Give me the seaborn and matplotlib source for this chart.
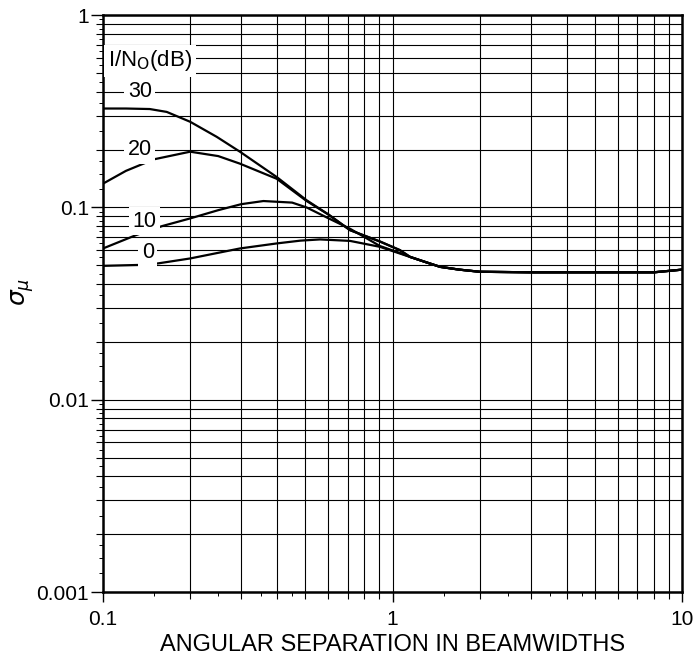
import numpy as np
import pandas as pd
import seaborn as sns
import matplotlib.pyplot as plt
from matplotlib.ticker import FixedLocator, LogLocator, NullFormatter

# curves: sigma_mu vs angular separation (beamwidths)
x_30 = [0.1, 0.12, 0.145, 0.166, 0.2, 0.247, 0.297, 0.398, 0.505, 0.6, 0.713, 0.905, 1.06, 1.15, 1.3, 1.46, 1.7, 2.0, 3.0, 5.0, 8.0, 10.0]
y_30 = [0.327, 0.327, 0.325, 0.314, 0.279, 0.233, 0.195, 0.144, 0.109, 0.092, 0.0762, 0.0665, 0.060, 0.0553, 0.052, 0.0491, 0.0475, 0.0463, 0.046, 0.046, 0.046, 0.0475]

x_20 = [0.1, 0.12, 0.15, 0.2, 0.25, 0.297, 0.398, 0.505, 0.6, 0.713, 0.905, 1.06, 1.15, 1.3, 1.46, 1.7, 2.0, 3.0, 5.0, 8.0, 10.0]
y_20 = [0.133, 0.155, 0.178, 0.195, 0.185, 0.169, 0.141, 0.108, 0.092, 0.0762, 0.0665, 0.060, 0.0553, 0.052, 0.0491, 0.0475, 0.0463, 0.046, 0.046, 0.046, 0.0475]

x_10 = [0.1, 0.13, 0.16, 0.2, 0.25, 0.3, 0.358, 0.45, 0.505, 0.6, 0.713, 0.905, 1.06, 1.15, 1.3, 1.46, 1.7, 2.0, 3.0, 5.0, 8.0, 10.0]
y_10 = [0.0612, 0.0718, 0.080, 0.0877, 0.0968, 0.104, 0.108, 0.106, 0.100, 0.0879, 0.0775, 0.0630, 0.0580, 0.0553, 0.052, 0.0491, 0.0475, 0.0463, 0.046, 0.046, 0.046, 0.0475]

x_0 = [0.1, 0.145, 0.2, 0.297, 0.398, 0.48, 0.562, 0.713, 0.905, 1.06, 1.15, 1.3, 1.46, 1.7, 2.0, 3.0, 5.0, 8.0, 10.0]
y_0 = [0.0497, 0.0504, 0.0543, 0.0612, 0.065, 0.0672, 0.0682, 0.067, 0.0624, 0.0576, 0.0553, 0.052, 0.0491, 0.0475, 0.0463, 0.046, 0.046, 0.046, 0.0475]

curve_names = ['30', '20', '10', '0']
label_x = [0.134, 0.134, 0.139, 0.143]
label_y = [0.40, 0.20, 0.085, 0.058]

x_ticks = [0.1, 1, 10]
x_tick_labels = ['0.1', '1', '10']
y_ticks = [0.001, 0.01, 0.1, 1]
y_tick_labels = ['0.001', '0.01', '0.1', '1']

frames = []
for name, xs, ys in zip(curve_names, [x_30, x_20, x_10, x_0], [y_30, y_20, y_10, y_0]):
    frames.append(pd.DataFrame({'sep': xs, 'sigma': ys, 'snr': name}))
df = pd.concat(frames, ignore_index=True)

sns.set_theme(style="white")
plt.rcParams['font.family'] = ['Liberation Sans', 'DejaVu Sans']
plt.rcParams['mathtext.fontset'] = 'dejavusans'
plt.rcParams['text.color'] = 'black'
plt.rcParams['axes.labelcolor'] = 'black'

fig = plt.figure(figsize=(6.96, 6.6), dpi=100)
ax = fig.add_axes([0.148, 0.103, 0.832, 0.874])

sns.lineplot(data=df, x='sep', y='sigma', units='snr', estimator=None,
             color='black', linewidth=1.6, sort=False, ax=ax, legend=False)

ax.set_xscale('log')
ax.set_yscale('log')
ax.set_xlim(0.1, 10)
ax.set_ylim(0.001, 1)

ax.xaxis.set_major_locator(FixedLocator(x_ticks))
ax.set_xticklabels(x_tick_labels, fontsize=15, color='black')
ax.yaxis.set_major_locator(FixedLocator(y_ticks))
ax.set_yticklabels(y_tick_labels, fontsize=15, color='black')
ax.xaxis.set_minor_locator(LogLocator(base=10, subs=np.arange(2, 10)))
ax.yaxis.set_minor_locator(LogLocator(base=10, subs=np.arange(2, 10)))
ax.xaxis.set_minor_formatter(NullFormatter())
ax.yaxis.set_minor_formatter(NullFormatter())

ax.tick_params(axis='x', which='major', direction='out', length=7, width=1, color='black',
               bottom=True, pad=6)
ax.tick_params(axis='y', which='major', direction='out', length=9, width=1, color='black',
               left=True, pad=1)
ax.tick_params(which='minor', direction='out', length=5, width=0.8, color='black',
               left=True, bottom=True)

# finer unlabeled ticks along the bottom and left edges (no grid lines there)
fine_x = ax.secondary_xaxis('bottom')
fine_x.xaxis.set_major_locator(LogLocator(base=10, subs=[1.5, 2.5, 3.5, 4.5]))
fine_x.xaxis.set_major_formatter(NullFormatter())
fine_x.xaxis.set_minor_locator(FixedLocator([]))
fine_x.tick_params(which='major', direction='out', length=3, width=0.7, color='black')
fine_x.spines['bottom'].set_visible(False)

fine_y = ax.secondary_yaxis('left')
fine_y.yaxis.set_major_locator(LogLocator(base=10, subs=[1.25, 1.5, 1.75, 2.5, 3.5, 4.5, 5.5, 6.5, 7.5, 8.5, 9.5]))
fine_y.yaxis.set_major_formatter(NullFormatter())
fine_y.yaxis.set_minor_locator(FixedLocator([]))
fine_y.tick_params(which='major', direction='out', length=3, width=0.7, color='black')
fine_y.spines['left'].set_visible(False)

ax.grid(which='both', color='black', linewidth=0.8)
for s in ax.spines.values():
    s.set_color('black')
    s.set_linewidth(1.8)

ax.set_xlabel('ANGULAR SEPARATION IN BEAMWIDTHS', fontsize=17, color='black')
ax.xaxis.set_label_coords(0.5, -0.072)
ax.set_ylabel(r'$\sigma_\mu$', fontsize=18, color='black')
ax.yaxis.set_label_coords(-0.115, 0.52)

box = dict(facecolor='white', edgecolor='none', pad=2.5)
for name, lx, ly in zip(curve_names, label_x, label_y):
    ax.text(lx, ly, name, fontsize=15.5, color='black', ha='center', va='center',
            bbox=box, zorder=5)
ax.text(0.104, 0.58, r'I/N$_\mathrm{O}$(dB)', fontsize=16, color='black', ha='left',
        va='center', bbox=box, zorder=5)

fig.savefig('out.png', dpi=100, facecolor='white')
